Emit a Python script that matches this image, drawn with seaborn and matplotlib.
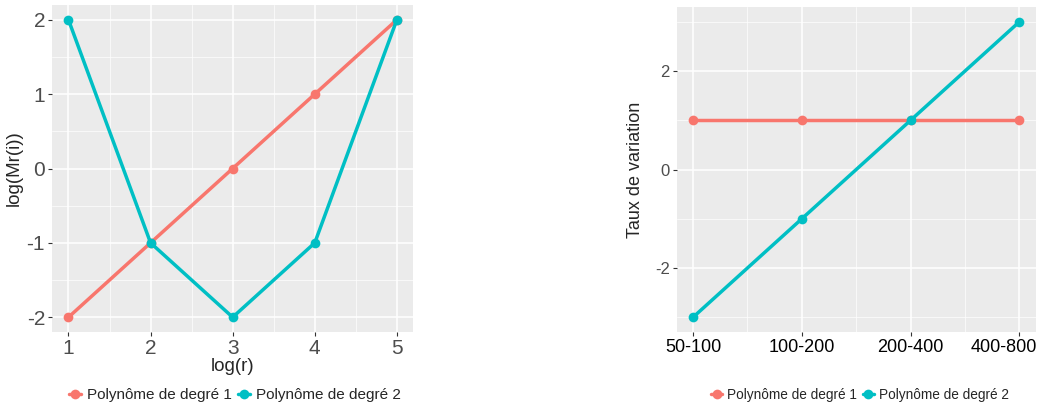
import matplotlib
matplotlib.use("Agg")
import matplotlib.pyplot as plt
import matplotlib.transforms as mtransforms
import pandas as pd
import seaborn as sns
from matplotlib.ticker import MultipleLocator, FixedLocator

# left panel data
log_r = [1, 2, 3, 4, 5]
deg1_left = [-2, -1, 0, 1, 2]
deg2_left = [2, -1, -2, -1, 2]

# right panel data
intervals = ["50-100", "100-200", "200-400", "400-800"]
deg1_right = [1, 1, 1, 1]
deg2_right = [-3, -1, 1, 3]

series_names = ["Polynôme de degré 1", "Polynôme de degré 2"]
colors = ["#F8766D", "#00BFC4"]

sns.set_theme(style="darkgrid")
plt.rcParams["font.family"] = ["Liberation Sans", "DejaVu Sans"]
plt.rcParams["axes.facecolor"] = "#EBEBEB"
plt.rcParams["grid.color"] = "white"


def long_frame(x, y1, y2):
    return pd.DataFrame({
        "x": list(x) + list(x),
        "y": list(y1) + list(y2),
        "serie": [series_names[0]] * len(x) + [series_names[1]] * len(x),
    })


def style_axes(ax, tick_size_x, tick_size_y, xcolor, ycolor):
    for s in ax.spines.values():
        s.set_visible(False)
    ax.grid(which="major", color="white", linewidth=1.1)
    ax.grid(which="minor", color="white", linewidth=0.5)
    ax.tick_params(which="major", length=3, width=0.8, color="#333333", bottom=True, left=True)
    ax.tick_params(which="minor", length=0, bottom=False, left=False)
    ax.tick_params(axis="x", labelsize=tick_size_x, labelcolor=xcolor, pad=2)
    ax.tick_params(axis="y", labelsize=tick_size_y, labelcolor=ycolor, pad=2)
    ax.set_axisbelow(True)


fig = plt.figure(figsize=(10.41, 4.08), dpi=100)

# ---- left panel
ax1 = fig.add_axes([0.050, 0.186, 0.347, 0.802])
df_left = long_frame(log_r, deg1_left, deg2_left)
sns.lineplot(data=df_left, x="x", y="y", hue="serie", palette=colors,
             marker="o", markersize=7, markeredgewidth=0, linewidth=2.5, ax=ax1)
handles, labels = ax1.get_legend_handles_labels()
ax1.get_legend().remove()
ax1.set_xlim(0.8, 5.2)
ax1.set_ylim(-2.2, 2.2)
ax1.xaxis.set_major_locator(MultipleLocator(1))
ax1.xaxis.set_minor_locator(MultipleLocator(0.5))
ax1.yaxis.set_major_locator(MultipleLocator(1))
ax1.yaxis.set_minor_locator(MultipleLocator(0.5))
style_axes(ax1, 15, 15, "#4D4D4D", "#4D4D4D")
ax1.set_yticks([-2, -1, 0, 1, 2])
ax1.set_yticklabels(["-2", "-1", "0", "1", "2"])
ax1.set_xlabel("log(r)", fontsize=13.5, labelpad=0)
ax1.set_ylabel("log(Mr(i))", fontsize=13.5, labelpad=3)

fig.legend(handles, labels, loc="center", bbox_to_anchor=(235 / 1041, 1 - 395 / 408),
           ncol=2, frameon=False, fontsize=11, handlelength=0.8, handletextpad=0.4,
           columnspacing=0.4)

# ---- right panel
ax2 = fig.add_axes([0.650, 0.186, 0.345, 0.797])
df_right = long_frame(intervals, deg1_right, deg2_right)
sns.lineplot(data=df_right, x="x", y="y", hue="serie", palette=colors,
             marker="o", markersize=7, markeredgewidth=0, linewidth=2.5, ax=ax2)
handles2, labels2 = ax2.get_legend_handles_labels()
ax2.get_legend().remove()
ax2.set_xlim(-0.15, 3.15)
ax2.set_ylim(-3.3, 3.3)
ax2.xaxis.set_major_locator(FixedLocator([0, 1, 2, 3]))
ax2.xaxis.set_minor_locator(FixedLocator([0.5, 1.5, 2.5]))
ax2.yaxis.set_major_locator(FixedLocator([-2, 0, 2]))
ax2.yaxis.set_minor_locator(FixedLocator([-3, -1, 1, 3]))
ax2.set_xticklabels(intervals)
style_axes(ax2, 13, 12, "black", "#4D4D4D")
ax2.set_yticklabels(["-2", "0", "2"])
ax2.set_xlabel("")
ax2.set_ylabel("Taux de variation", fontsize=13, labelpad=8)

# the last interval label is pushed left so it stays inside the figure
last = ax2.get_xticklabels()[-1]
last.set_transform(last.get_transform() + mtransforms.ScaledTranslation(-16 / 100, 0, fig.dpi_scale_trans))

fig.legend(handles2, labels2, loc="center", bbox_to_anchor=(860 / 1041, 1 - 395 / 408),
           ncol=2, frameon=False, fontsize=9.8, handlelength=0.8, handletextpad=0.4,
           columnspacing=0.4)

fig.savefig("out.png", dpi=100)
